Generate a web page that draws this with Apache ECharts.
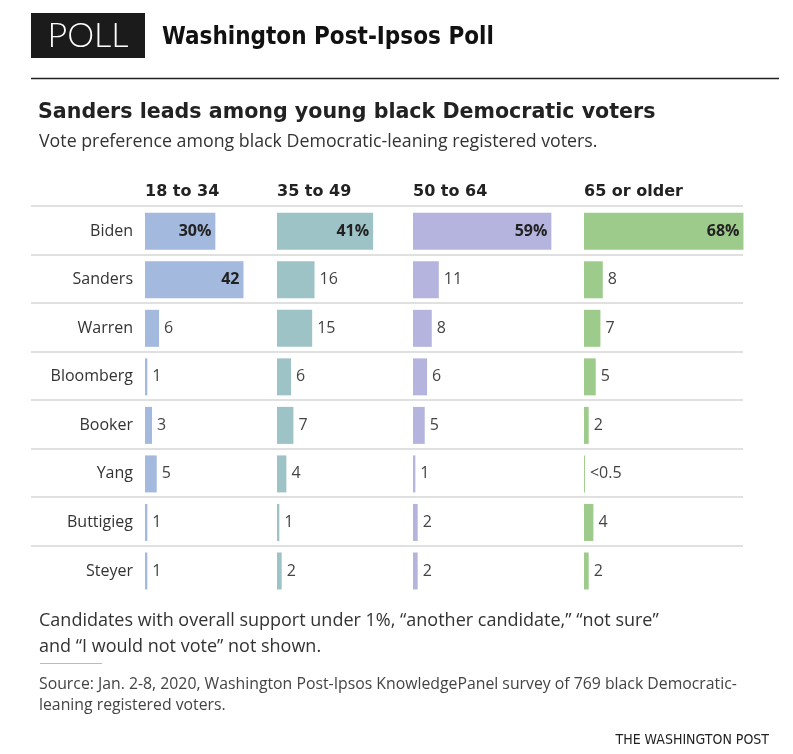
<!DOCTYPE html>
<html>
<head>
<meta charset="utf-8">
<script src="https://cdn.jsdelivr.net/npm/echarts@6/dist/echarts.min.js"></script>
<style>
  html, body { margin: 0; padding: 0; background: #fff; }
  #chart { width: 793px; height: 754px; }
</style>
</head>
<body>
<div id="chart"></div>
<script>
// candidates, top to bottom
var candidates = ['Biden', 'Sanders', 'Warren', 'Bloomberg', 'Booker', 'Yang', 'Buttigieg', 'Steyer'];
var ageGroups = ['18 to 34', '35 to 49', '50 to 64', '65 or older'];
// percent of black Democratic-leaning registered voters
var age18to34 = [30, 42, 6, 1, 3, 5, 1, 1];
var age35to49 = [41, 16, 15, 6, 7, 4, 1, 2];
var age50to64 = [59, 11, 8, 6, 5, 1, 2, 2];
var age65plus = [68, 8, 7, 5, 2, 0.4, 4, 2];   // Yang is "<0.5"
var groupColors = ['#a3b9dd', '#9ec3c6', '#b5b4df', '#9dcb8b'];

(function () {
    'use strict';
    var chart = echarts.init(document.getElementById('chart'), null, { renderer: 'canvas' });

    var allData = [age18to34, age35to49, age50to64, age65plus];
    var panelLeft = [145, 277, 413, 584];
    var pxPerPoint = 2.345;     // same scale in every panel
    var axisMax = 70;
    var rowH = 48.53;
    var top = 206;
    var labelFont = '"Open Sans", "Liberation Sans", sans-serif';

    var grids = [], xAxes = [], yAxes = [], series = [], titles = [];

    // label text: % on first row, "<0.5" for tiny values
    function labelText(p) {
        var v = p.value;
        if (v < 0.5) return '<0.5';
        return p.dataIndex === 0 ? v + '%' : '' + v;
    }

    for (var i = 0; i < 4; i++) {
        grids.push({
            left: panelLeft[i], top: top + 1, width: axisMax * pxPerPoint, height: rowH * 8,
            containLabel: false
        });
        xAxes.push({
            type: 'value', gridIndex: i, min: 0, max: axisMax, show: false
        });
        yAxes.push({
            type: 'category', gridIndex: i, data: candidates, inverse: true,
            axisLine: { show: false }, axisTick: { show: false }, splitLine: { show: false },
            axisLabel: {
                show: i === 0, margin: 12, color: '#333', fontSize: 16, fontFamily: labelFont
            }
        });
        var pts = allData[i].map(function (v) {
            var inside = v >= 25;
            return {
                value: v,
                label: inside ? {
                    position: 'insideRight', distance: 4, fontWeight: 'bold', color: '#222', fontSize: 16
                } : {
                    position: 'right', distance: 5, fontWeight: 'normal', color: '#444', fontSize: 16
                }
            };
        });
        series.push({
            type: 'bar', xAxisIndex: i, yAxisIndex: i, data: pts, barWidth: 37,
            itemStyle: { color: groupColors[i] },
            label: { show: true, fontFamily: labelFont, formatter: labelText },
            silent: true, animation: false
        });
        titles.push({
            text: ageGroups[i], left: panelLeft[i] - 5, top: 179,
            textStyle: { fontFamily: '"DejaVu Sans", sans-serif', fontWeight: 'bold', fontSize: 16, color: '#222' }
        });
    }

    // separator rows across all panels (helper grid, 7 gaps -> 8 lines)
    grids.push({ left: 31, top: top, width: 712, height: rowH * 7 });
    xAxes.push({ type: 'value', gridIndex: 4, show: false, min: 0, max: 1 });
    yAxes.push({
        type: 'value', gridIndex: 4, min: 0, max: 7, interval: 1, inverse: true,
        axisLine: { show: false }, axisTick: { show: false }, axisLabel: { show: false },
        splitLine: { show: true, lineStyle: { color: '#e0e0e0', width: 2 } }
    });

    var condensed = '"Liberation Sans Narrow", "DejaVu Sans Condensed", sans-serif';
    titles.push({
        text: 'Washington Post-Ipsos Poll', left: 157, top: 21,
        textStyle: { fontFamily: condensed, fontWeight: 'bold', fontSize: 24, color: '#111' }
    });
    titles.push({
        text: 'Sanders leads among young black Democratic voters', left: 33, top: 97,
        textStyle: { fontFamily: '"DejaVu Sans", sans-serif', fontWeight: 'bold', fontSize: 20.6, color: '#222' }
    });
    titles.push({
        text: 'Vote preference among black Democratic-leaning registered voters.', left: 34, top: 128,
        textStyle: { fontFamily: labelFont, fontWeight: 'normal', fontSize: 17.8, color: '#333' }
    });
    titles.push({
        text: 'Candidates with overall support under 1%, \u201canother candidate,\u201d \u201cnot sure\u201d\nand \u201cI would not vote\u201d not shown.',
        left: 34, top: 603,
        textStyle: { fontFamily: labelFont, fontWeight: 'normal', fontSize: 18, lineHeight: 26, color: '#333' }
    });
    titles.push({
        text: 'Source: Jan. 2-8, 2020, Washington Post-Ipsos KnowledgePanel survey of 769 black Democratic-\nleaning registered voters.',
        left: 34, top: 669,
        textStyle: { fontFamily: labelFont, fontWeight: 'normal', fontSize: 15.8, lineHeight: 21, color: '#444' }
    });
    titles.push({
        text: 'THE WASHINGTON POST', right: 19, top: 728,
        textStyle: { fontFamily: condensed, fontWeight: 'normal', fontSize: 14, color: '#222' }
    });

    var option = {
        backgroundColor: '#fff',
        animation: false,
        title: titles,
        grid: grids,
        xAxis: xAxes,
        yAxis: yAxes,
        series: series,
        graphic: [
            { type: 'rect', shape: { x: 31, y: 13, width: 114, height: 45 }, style: { fill: '#1b1b1b' } },
            {
                type: 'text', x: 88, y: 36,
                style: {
                    text: 'POLL', fill: '#fff', font: '300 34px Lato, "Open Sans", sans-serif',
                    align: 'center', verticalAlign: 'middle'
                }
            },
            { type: 'line', shape: { x1: 31, y1: 78.5, x2: 779, y2: 78.5 }, style: { stroke: '#222', lineWidth: 1.5 } },
            { type: 'line', shape: { x1: 40, y1: 663.5, x2: 102, y2: 663.5 }, style: { stroke: '#bbb', lineWidth: 1 } }
        ]
    };
    chart.setOption(option);
})();
</script>
</body>
</html>
